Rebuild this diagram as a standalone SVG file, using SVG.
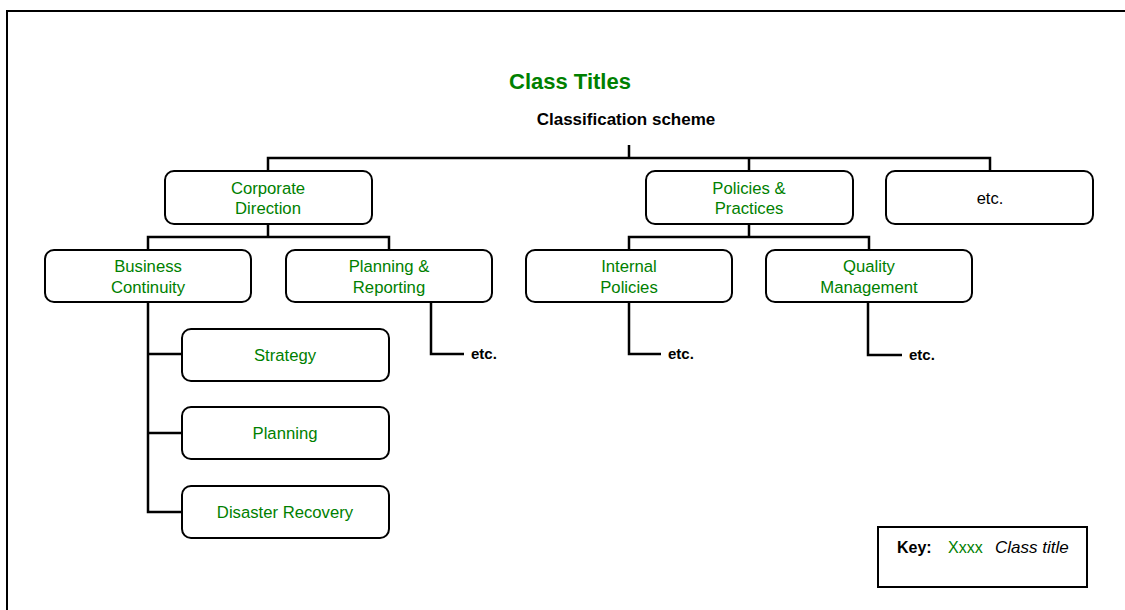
<svg xmlns="http://www.w3.org/2000/svg" width="1125" height="610" viewBox="0 0 1125 610">
<style>
.box{fill:#fff;stroke:#000;stroke-width:2}
.ln{fill:none;stroke:#000;stroke-width:2.5}
.t{font-family:"Liberation Sans",Arial,sans-serif;font-size:16.7px;fill:#008000;text-anchor:middle}
.k{font-family:"Liberation Sans",Arial,sans-serif;fill:#000}
.etc{font-family:"Liberation Sans",Arial,sans-serif;font-size:15px;font-weight:bold;fill:#000}
</style>
<rect width="1125" height="610" fill="#fff"/>
<path d="M7,610 V11 H1125" fill="none" stroke="#000" stroke-width="2"/>
<text x="570" y="89" font-family="Liberation Sans, Arial, sans-serif" font-size="22" font-weight="bold" fill="#008000" text-anchor="middle">Class Titles</text>
<text x="626" y="125" class="k" font-size="17" font-weight="bold" text-anchor="middle">Classification scheme</text>
<g id="connectors">
<path class="ln" d="M629,145 V158 M268,171 V158 H990 V171 M749,158 V171"/>
<path class="ln" d="M268,224 V237 M148,250 V237 H389 V250"/>
<path class="ln" d="M749,224 V237 M629,250 V237 H869 V250"/>
<path class="ln" d="M148,302 V512 H182 M148,354 H182 M148,433 H182"/>
<path class="ln" d="M431,302 V354 H464"/>
<path class="ln" d="M629,302 V354 H661"/>
<path class="ln" d="M868,302 V355 H902"/>
</g>
<g id="corporate-direction"><rect class="box" x="165" y="171" width="207" height="53" rx="9"/><text class="t" x="268" y="194">Corporate</text><text class="t" x="268" y="214">Direction</text></g>
<g id="policies-practices"><rect class="box" x="646" y="171" width="207" height="53" rx="9"/><text class="t" x="749" y="194">Policies &amp;</text><text class="t" x="749" y="214">Practices</text></g>
<g id="etc-top"><rect class="box" x="886" y="171" width="207" height="53" rx="9"/><text class="k" x="990" y="204" font-size="16.5" text-anchor="middle">etc.</text></g>
<g id="business-continuity"><rect class="box" x="45" y="250" width="206" height="52" rx="9"/><text class="t" x="148" y="272">Business</text><text class="t" x="148" y="293">Continuity</text></g>
<g id="planning-reporting"><rect class="box" x="286" y="250" width="206" height="52" rx="9"/><text class="t" x="389" y="272">Planning &amp;</text><text class="t" x="389" y="293">Reporting</text></g>
<g id="internal-policies"><rect class="box" x="526" y="250" width="206" height="52" rx="9"/><text class="t" x="629" y="272">Internal</text><text class="t" x="629" y="293">Policies</text></g>
<g id="quality-management"><rect class="box" x="766" y="250" width="206" height="52" rx="9"/><text class="t" x="869" y="272">Quality</text><text class="t" x="869" y="293">Management</text></g>
<g id="strategy"><rect class="box" x="182" y="329" width="207" height="52" rx="9"/><text class="t" x="285" y="361">Strategy</text></g>
<g id="planning"><rect class="box" x="182" y="407" width="207" height="52" rx="9"/><text class="t" x="285" y="439">Planning</text></g>
<g id="disaster-recovery"><rect class="box" x="182" y="486" width="207" height="52" rx="9"/><text class="t" x="285" y="518">Disaster Recovery</text></g>
<g id="etc-labels">
<text class="etc" x="471" y="359">etc.</text>
<text class="etc" x="668" y="359">etc.</text>
<text class="etc" x="909" y="360">etc.</text>
</g>
<g id="key">
<rect x="878" y="527" width="209" height="60" fill="#fff" stroke="#000" stroke-width="2"/>
<text class="k" x="897" y="553" font-size="16" font-weight="bold">Key:</text>
<text x="948" y="553" font-family="Liberation Sans, Arial, sans-serif" font-size="16" fill="#008000">Xxxx</text>
<text class="k" x="995" y="553" font-size="17" font-style="italic">Class title</text>
</g>
</svg>
